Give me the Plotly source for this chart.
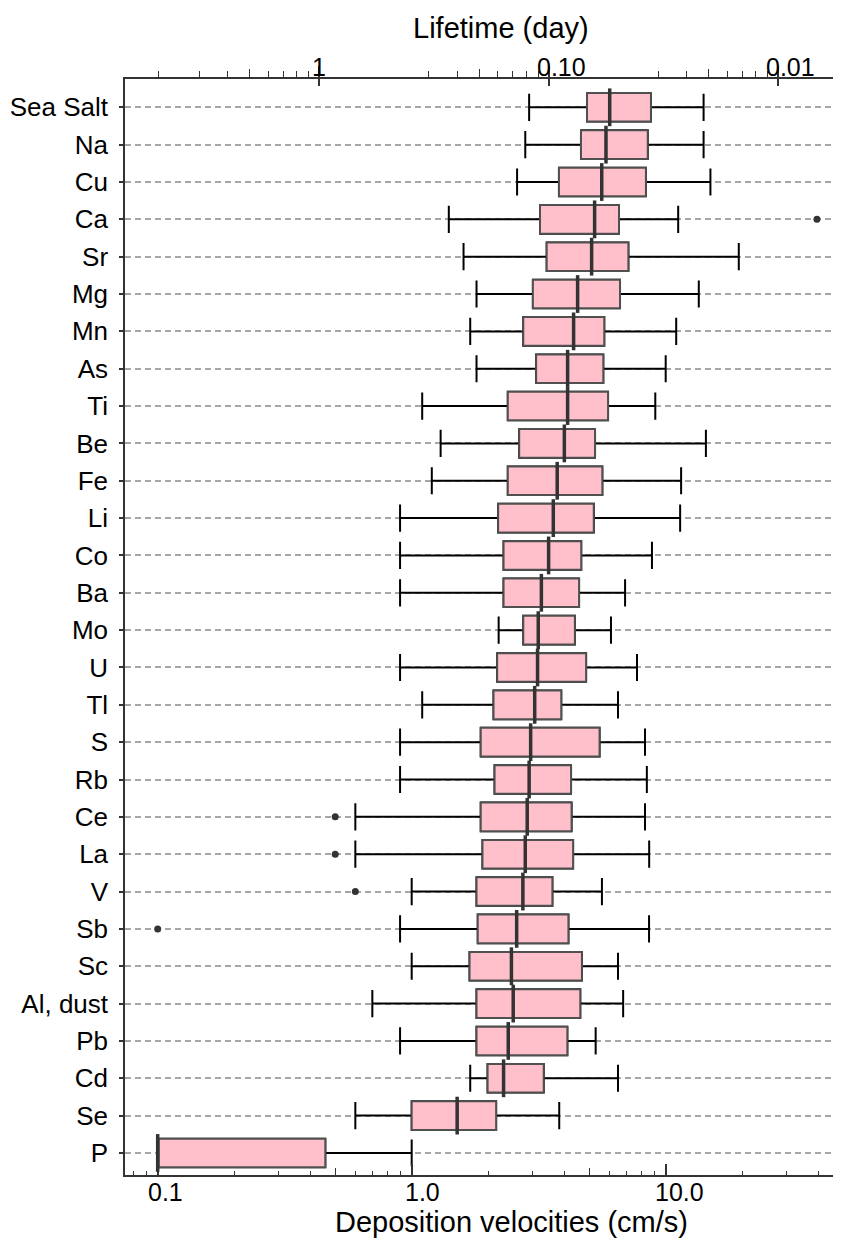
import math
import plotly.graph_objects as go

# ---------------- data ----------------
categories = ["Sea Salt", "Na", "Cu", "Ca", "Sr", "Mg", "Mn", "As", "Ti", "Be",
              "Fe", "Li", "Co", "Ba", "Mo", "U", "Tl", "S", "Rb", "Ce",
              "La", "V", "Sb", "Sc", "Al, dust", "Pb", "Cd", "Se", "P"]

lower_whisker = [2.90, 2.80, 2.60, 1.40, 1.60, 1.80, 1.70, 1.80, 1.10, 1.30,
                 1.20, 0.90, 0.90, 0.90, 2.20, 0.90, 1.10, 0.90, 0.90, 0.60,
                 0.60, 1.00, 0.90, 1.00, 0.70, 0.90, 1.70, 0.60, 0.10]
q1 = [4.90, 4.64, 3.80, 3.20, 3.40, 3.00, 2.75, 3.09, 2.39, 2.65,
      2.39, 2.19, 2.30, 2.30, 2.75, 2.17, 2.10, 1.87, 2.12, 1.87,
      1.90, 1.80, 1.82, 1.69, 1.80, 1.80, 1.99, 1.00, 0.10]
median = [6.02, 5.82, 5.60, 5.25, 5.11, 4.50, 4.34, 4.11, 4.11, 3.99,
          3.74, 3.61, 3.46, 3.24, 3.15, 3.13, 3.05, 2.94, 2.90, 2.85,
          2.80, 2.74, 2.59, 2.47, 2.51, 2.40, 2.30, 1.51, 0.10]
q3 = [8.75, 8.50, 8.36, 6.55, 7.13, 6.61, 5.73, 5.68, 5.93, 5.27,
      5.63, 5.21, 4.65, 4.56, 4.39, 4.86, 3.88, 5.49, 4.24, 4.26,
      4.32, 3.58, 4.14, 4.68, 4.61, 4.10, 3.31, 2.15, 0.457]
upper_whisker = [14.1, 14.1, 15.0, 11.2, 19.4, 13.5, 11.0, 10.0, 9.10, 14.4,
                 11.5, 11.4, 8.83, 6.92, 6.09, 7.71, 6.49, 8.29, 8.43, 8.29,
                 8.61, 5.61, 8.60, 6.49, 6.80, 5.30, 6.49, 3.81, 1.00]

outlier_categories = ["Ca", "Ce", "La", "V", "Sb"]
outlier_values = [39.4, 0.50, 0.50, 0.60, 0.10]

# bottom axis ticks (deposition velocity, cm/s)
velocity_tick_vals = [0.1, 1.0, 10.0]
velocity_tick_text = ["0.1", "1.0", "10.0"]
velocity_minor_vals = [0.08, 0.09, 0.2, 0.3, 0.4, 0.6, 0.7, 0.8, 0.9,
                       2, 3, 4, 6, 7, 8, 9, 20, 30, 40]
velocity_mid_vals = [0.5, 5.0]

# top axis ticks (lifetime, day)
lifetime_tick_vals = [1.0, 0.1, 0.01]
lifetime_tick_text = ["1", "0.10", "0.01"]
lifetime_minor_vals = [5.0, 10/3, 2.5, 10/6, 10/7, 1.25, 10/9,
                       1/3, 1/4, 1/6, 1/7, 1/8, 1/9,
                       1/30, 1/40, 1/60, 1/70, 1/80, 1/90]
lifetime_mid_vals = [2.0, 0.2, 0.02]

# ---------------- styling ----------------
FONT = "Liberation Sans, Arial, Helvetica, sans-serif"
AX = "#333333"
BOX_W = 0.766

fig = go.Figure()

# whiskers (black) with caps
fig.add_trace(go.Box(
    y=categories, q1=q1, median=median, q3=q3,
    lowerfence=lower_whisker, upperfence=upper_whisker,
    orientation="h", boxpoints=False, width=BOX_W, whiskerwidth=0.95,
    fillcolor="rgba(0,0,0,0)", line=dict(color="#000000", width=2),
    hoverinfo="skip", showlegend=False))

# pink boxes on top
fig.add_trace(go.Box(
    y=categories, q1=q1, median=median, q3=q3,
    lowerfence=q1, upperfence=q3,
    orientation="h", boxpoints=False, width=BOX_W, whiskerwidth=0,
    fillcolor="#FFC0CB", line=dict(color="#505050", width=2),
    hoverinfo="skip", showlegend=False))

# thick medians
fig.add_trace(go.Scatter(
    x=median, y=categories, mode="markers",
    marker=dict(symbol="line-ns", size=27, line=dict(width=3.5, color="#333333")),
    hoverinfo="skip", showlegend=False))

# outliers
fig.add_trace(go.Scatter(
    x=outlier_values, y=outlier_categories, mode="markers",
    marker=dict(symbol="circle", size=7, color="#333333"),
    hoverinfo="skip", showlegend=False))

# empty traces so the overlay axes are drawn
for ax in ["x2", "x3", "x4", "x5"]:
    fig.add_trace(go.Scatter(x=[], y=[], xaxis=ax, yaxis="y", showlegend=False,
                             hoverinfo="skip"))

# axis ranges (log10 units)
v_range = [-1.1287, 1.6902]
l_range = [0.8453, -2.2745]

common = dict(automargin=False, showgrid=False, zeroline=False)

# the page body adds an 8px offset, so the figure is 8px smaller than the window
fig.update_layout(
    width=833, height=1233,
    margin=dict(l=117, r=0, t=71, b=66, autoexpand=False),
    plot_bgcolor="white", paper_bgcolor="white",
    font=dict(family=FONT, color="black"),
    showlegend=False,
    boxmode="overlay",
    xaxis=dict(
        type="log", range=v_range, anchor="y",
        tickmode="array", tickvals=velocity_tick_vals, showticklabels=False,
        ticks="inside", ticklen=11, tickwidth=1.5, tickcolor=AX,
        showline=True, linecolor=AX, linewidth=1.5,
        minor=dict(tickmode="array", tickvals=velocity_minor_vals, ticks="inside",
                   ticklen=4, tickwidth=1.2, tickcolor=AX, showgrid=False),
        **common,
    ),
    xaxis5=dict(
        type="log", range=v_range, overlaying="x", side="bottom", anchor="y",
        tickmode="array", tickvals=velocity_mid_vals, showticklabels=False,
        ticks="inside", ticklen=7, tickwidth=1.2, tickcolor=AX,
        showline=False, **common,
    ),
    xaxis2=dict(
        type="log", range=l_range, overlaying="x", side="top", anchor="y",
        tickmode="array", tickvals=lifetime_tick_vals, showticklabels=False,
        ticks="outside", ticklen=11, tickwidth=1.5, tickcolor=AX,
        showline=True, linecolor=AX, linewidth=1.5,
        minor=dict(tickmode="array", tickvals=lifetime_minor_vals, ticks="outside",
                   ticklen=6, tickwidth=1.2, tickcolor=AX, showgrid=False),
        **common,
    ),
    xaxis3=dict(
        type="log", range=l_range, overlaying="x", side="top", anchor="y",
        tickmode="array", tickvals=lifetime_mid_vals, showticklabels=False,
        ticks="outside", ticklen=9, tickwidth=1.2, tickcolor=AX,
        showline=False, **common,
    ),
    xaxis4=dict(
        type="log", range=l_range, overlaying="x", side="top", anchor="y",
        tickmode="array", tickvals=lifetime_tick_vals, showticklabels=False,
        ticks="inside", ticklen=7, tickwidth=1.5, tickcolor=AX,
        showline=False, **common,
    ),
    yaxis=dict(
        type="category", categoryorder="array", categoryarray=categories,
        range=[28.59, -0.758], automargin=False,
        showline=True, linecolor=AX, linewidth=1.5,
        ticks="outside", ticklen=4, tickwidth=1.5, tickcolor=AX,
        tickfont=dict(size=26, family=FONT, color="black"),
        ticklabelstandoff=6,
        showgrid=True, gridcolor="#a6a6a6", gridwidth=1.5, griddash="6px,4px",
        zeroline=False,
    ),
)

annotations = [
    dict(text="Lifetime (day)", xref="paper", yref="paper", x=0.5258, y=1,
         xanchor="center", yanchor="bottom", yshift=33, showarrow=False,
         font=dict(size=29, family=FONT, color="black")),
    dict(text="Deposition velocities (cm/s)", xref="paper", yref="paper", x=0.5398, y=0,
         xanchor="center", yanchor="top", yshift=-29, showarrow=False,
         font=dict(size=29, family=FONT, color="black")),
]
# tick labels as drawn in the reference (slightly to the right of their ticks)
top_label_shift = [0, 13, 12]
for val, txt, sh in zip(lifetime_tick_vals, lifetime_tick_text, top_label_shift):
    annotations.append(dict(
        text=txt, xref="x2", yref="paper", x=math.log10(val), y=1,
        xanchor="center", yanchor="bottom", xshift=sh, yshift=-4, showarrow=False,
        font=dict(size=25, family=FONT, color="black")))
bottom_label_shift = [8, 11, 14]
for val, txt, sh in zip(velocity_tick_vals, velocity_tick_text, bottom_label_shift):
    annotations.append(dict(
        text=txt, xref="x", yref="paper", x=math.log10(val), y=0,
        xanchor="center", yanchor="top", xshift=sh, yshift=-1, showarrow=False,
        font=dict(size=25, family=FONT, color="black")))
fig.update_layout(annotations=annotations)

fig.write_html("out.html")
